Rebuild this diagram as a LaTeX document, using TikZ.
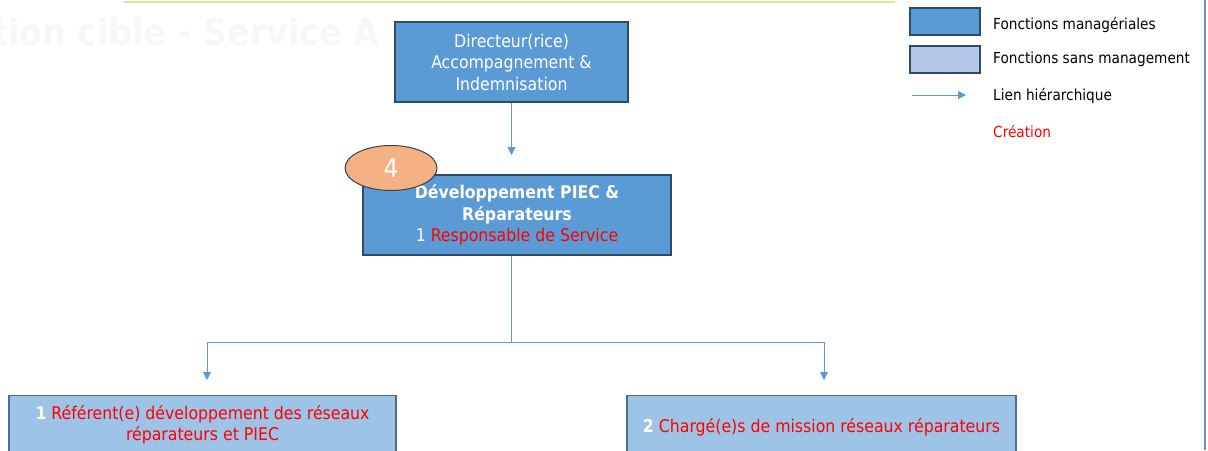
\documentclass[tikz,border=0pt]{standalone}
\usepackage{fontspec}
\setmainfont{DejaVu Sans Condensed}
\usetikzlibrary{arrows.meta,shapes.geometric}
\definecolor{mgr}{HTML}{5B9BD5}
\definecolor{mgrb}{HTML}{2F4A68}
\definecolor{nmg}{HTML}{9DC3E6}
\definecolor{nmgb}{HTML}{4A6F96}
\definecolor{leg}{HTML}{B4C7E7}
\definecolor{lnk}{HTML}{5B9BD5}
\definecolor{crea}{HTML}{FF0000}
\definecolor{ora}{HTML}{F4B183}
\definecolor{grn}{HTML}{D6E4A4}
\definecolor{edge}{HTML}{6C8EB5}
\tikzset{
  x=1pt,y=-1pt,
  boxfont/.style={font=\fontsize{17.5}{21.5}\selectfont},
  mbox/.style={draw=mgrb,line width=1.2pt,fill=mgr,text=white,align=center,inner sep=0pt,boxfont},
  nbox/.style={draw=nmgb,line width=1.2pt,fill=nmg,align=center,inner sep=0pt},
  link/.style={draw=lnk,line width=1pt,-{Triangle[length=8pt,width=8pt]}},
  plain/.style={draw=lnk,line width=1pt},
  legtext/.style={anchor=west,font=\fontsize{15.2}{17}\selectfont,inner sep=0pt},
}
\begin{document}
\begin{tikzpicture}
\useasboundingbox (0,0) rectangle (1208,450);
\clip (0,0) rectangle (1208,450);
\fill[white] (0,0) rectangle (1208,450);
% faint title
\node[anchor=west,text=black!3,font=\bfseries\fontsize{37}{40}\selectfont,inner sep=0pt] (ttl) at (-8,32) {tion cible - Service A};
% green top line
\draw[grn,line width=2.5pt] (124,2) -- (895,2);
% right border line
\draw[edge,line width=2pt] (1205,0) -- (1205,450);
% Director
\node[mbox,minimum width=233pt,minimum height=80pt] (dir) at (511.5,62) {Directeur(rice)\\Accompagnement \&\\Indemnisation};
% PIEC
\node[mbox,minimum width=308pt,minimum height=80pt] (piec) at (517,215) {\textbf{Développement PIEC \&}\\\textbf{Réparateurs}\\1 \textcolor{crea}{Responsable de Service}};
\node[draw=black!75,line width=1pt,fill=ora,ellipse,minimum width=92pt,minimum height=45pt,inner sep=0pt,text=white,font=\fontsize{26}{28}\selectfont] (num) at (391,168) {4};
% bottom boxes
\node[nbox,anchor=north,minimum width=387pt,minimum height=80pt] (ref) at (202.5,395) {};
\node[anchor=north,align=center,inner sep=0pt,boxfont] (reft) at (202.5,405) {\textcolor{white}{\textbf{1}} \textcolor{crea}{Référent(e) développement des réseaux}\\\textcolor{crea}{réparateurs et PIEC}};
\node[nbox,anchor=north,minimum width=389pt,minimum height=80pt] (chg) at (821.5,395) {};
\node[anchor=center,inner sep=0pt,boxfont] (chgt) at (821.5,427) {\textcolor{white}{\textbf{2}} \textcolor{crea}{Chargé(e)s de mission réseaux réparateurs}};
% connectors
\coordinate (a1) at (511.5,155);
\coordinate (j) at (511.5,342);
\coordinate (bl) at (207,380);
\coordinate (br) at (824,380);
\draw[link] (dir.south) -- (a1);
\draw[plain] (piec.south -| j) -- (j);
\draw[link] (j) -| (bl);
\draw[link] (j) -| (br);
% legend
\node[draw=mgrb,line width=1.2pt,fill=mgr,minimum width=70pt,minimum height=27pt,inner sep=0pt] (l1) at (945,21.5) {};
\node[draw=mgrb,line width=1.2pt,fill=leg,minimum width=70pt,minimum height=27pt,inner sep=0pt] (l2) at (945,59.5) {};
\coordinate (la) at (912,95);
\coordinate (lb) at (966,95);
\draw[link] (la) -- (lb);
\node[legtext] (t1) at (993,25) {Fonctions managériales};
\node[legtext] (t2) at (993,59) {Fonctions sans management};
\node[legtext] (t3) at (993,96) {Lien hiérarchique};
\node[legtext,text=crea] (t4) at (993,132) {Création};
\end{tikzpicture}
\end{document}
